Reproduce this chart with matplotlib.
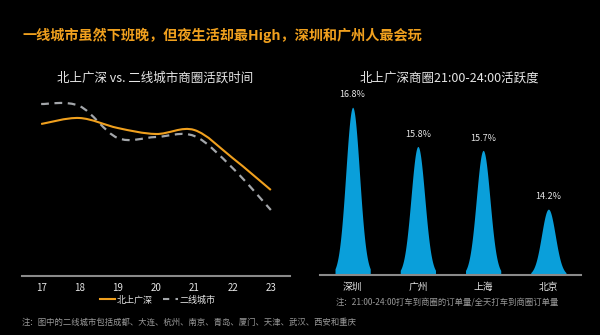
import numpy as np
import matplotlib
matplotlib.use('Agg')
import matplotlib.pyplot as plt
from matplotlib.path import Path
from matplotlib.patches import PathPatch
from matplotlib.lines import Line2D

plt.rcParams['font.family'] = ['Noto Sans CJK SC', 'DejaVu Sans']

# data
# ====
hours = [17, 18, 19, 20, 21, 22, 23]
tier1_activity = [7.6, 7.9, 7.4, 7.1, 7.3, 5.9, 4.3]
tier2_activity = [8.6, 8.5, 6.9, 6.95, 7.0, 5.4, 3.3]

cities = ['深圳', '广州', '上海', '北京']
night_share = [16.8, 15.8, 15.7, 14.2]

TITLE = '一线城市虽然下班晚，但夜生活却最High，深圳和广州人最会玩'
LEFT_TITLE = '北上广深 vs. 二线城市商圈活跃时间'
RIGHT_TITLE = '北上广深商圈21:00-24:00活跃度'
LEFT_NOTE = '注：图中的二线城市包括成都、大连、杭州、南京、青岛、厦门、天津、武汉、西安和重庆'
RIGHT_NOTE = '注：21:00-24:00打车到商圈的订单量/全天打车到商圈订单量'

ORANGE = '#F0A01E'
GREY_LINE = '#A3A6AA'
BLUE = '#0A9FDA'
TXT = '#E6E6E6'
AXIS = '#8A8A8A'


def smooth_path(xs, ys, tension=1.0 / 6):
    """ catmull-rom style bezier path through the points """
    xs = np.asarray(xs, float)
    ys = np.asarray(ys, float)
    pts = np.column_stack([xs, ys])
    verts = [pts[0]]
    codes = [Path.MOVETO]
    n = len(pts)
    for i in range(n - 1):
        p0 = pts[max(i - 1, 0)]
        p1 = pts[i]
        p2 = pts[i + 1]
        p3 = pts[min(i + 2, n - 1)]
        c1 = p1 + (p2 - p0) * tension
        c2 = p2 - (p3 - p1) * tension
        verts += [c1, c2, p2]
        codes += [Path.CURVE4] * 3
    return Path(verts, codes)


fig = plt.figure(figsize=(6.0, 3.35), dpi=100)
fig.patch.set_facecolor('black')

H = 335.0
W = 600.0

fig.text(22 / W, 1 - 35 / H, TITLE, color=ORANGE, fontsize=10.2,
         fontweight='bold', ha='left', va='center')

# left chart
# ==========
ax1 = fig.add_axes([22 / W, 1 - 276 / H, 268 / W, (276 - 95) / H])
ax1.set_facecolor('black')
ax1.set_xlim(16.5, 23.5)
ax1.set_ylim(0, 9.05)

ax1.add_patch(PathPatch(smooth_path(hours, tier2_activity), facecolor='none',
                        edgecolor=GREY_LINE, lw=1.6, linestyle=(0, (3.5, 2.5))))
ax1.add_patch(PathPatch(smooth_path(hours, tier1_activity), facecolor='none',
                        edgecolor=ORANGE, lw=1.5))

for sp in ['top', 'right', 'left']:
    ax1.spines[sp].set_visible(False)
ax1.spines['bottom'].set_color(AXIS)
ax1.spines['bottom'].set_linewidth(1.5)
ax1.set_yticks([])
ax1.set_xticks(hours)
ax1.set_xticklabels([str(h) for h in hours], color=TXT, fontsize=7)
ax1.tick_params(axis='x', length=0, pad=5)

fig.text(155 / W, 1 - 78 / H, LEFT_TITLE, color=TXT, fontsize=9,
         ha='center', va='center')

handles = [Line2D([], [], color=ORANGE, lw=1.5),
           Line2D([], [], color=GREY_LINE, lw=1.5, linestyle=(0, (3, 3)))]
leg = fig.legend(handles, ['北上广深', '二线城市'], loc='center',
                 bbox_to_anchor=(158 / W, 1 - 300 / H), ncol=2, frameon=False,
                 fontsize=6.5, handlelength=1.6, handletextpad=0.2,
                 columnspacing=1.2)
for t in leg.get_texts():
    t.set_color(TXT)

fig.text(22 / W, 1 - 322 / H, LEFT_NOTE, color='#9A9A9A', fontsize=6,
         ha='left', va='center')

# right chart
# ===========
ax2 = fig.add_axes([320 / W, 1 - 275 / H, 261 / W, (275 - 90) / H])
ax2.set_facecolor('black')
ax2.set_xlim(-0.5, 3.5)
base = 12.52
ax2.set_ylim(base, 17.24)

half = 0.27
sig = 0.105
u = np.linspace(-half, half, 121)
shape = np.exp(-u ** 2 / (2 * sig ** 2))
for i, v in enumerate(night_share):
    ax2.fill_between(i + u, base, base + (v - base) * shape, color=BLUE, lw=0)
    ax2.text(i, v + 0.2, '{:.1f}%'.format(v), color=TXT, fontsize=6.5,
             ha='center', va='bottom')

for sp in ['top', 'right', 'left']:
    ax2.spines[sp].set_visible(False)
ax2.spines['bottom'].set_color(AXIS)
ax2.spines['bottom'].set_linewidth(1.5)
ax2.set_yticks([])
ax2.set_xticks(range(len(cities)))
ax2.set_xticklabels(cities, color=TXT, fontsize=7)
ax2.tick_params(axis='x', length=0, pad=5)

fig.text(449 / W, 1 - 78 / H, RIGHT_TITLE, color=TXT, fontsize=9,
         ha='center', va='center')
fig.text(447 / W, 1 - 302 / H, RIGHT_NOTE, color='#9A9A9A', fontsize=6,
         ha='center', va='center')

fig.savefig('out.png', dpi=100, facecolor='black')
plt.close(fig)
